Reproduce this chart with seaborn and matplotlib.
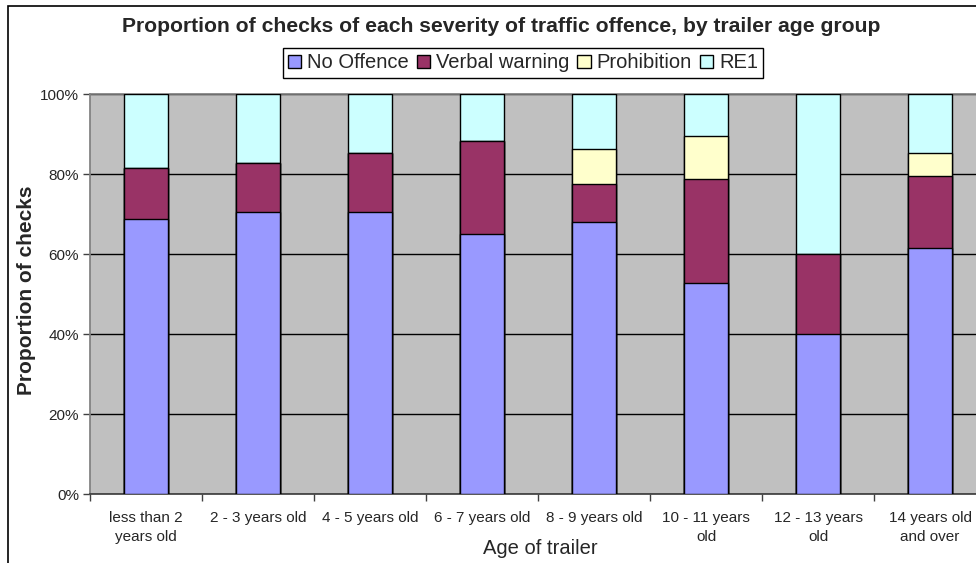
#!/usr/bin/env python3

import matplotlib
matplotlib.use("Agg")
import pandas as pd
from matplotlib import pyplot as plt
from matplotlib.patches import Patch, Rectangle
import seaborn as sns

sns.set_theme(style="white")
plt.rcParams['font.family'] = ['Liberation Sans', 'DejaVu Sans']

age_groups = ["less than 2\nyears old", "2 - 3 years old", "4 - 5 years old", "6 - 7 years old",
              "8 - 9 years old", "10 - 11 years\nold", "12 - 13 years\nold", "14 years old\nand over"]
severities = ["No Offence", "Verbal warning", "Prohibition", "RE1"]
no_offence = [68.8, 70.5, 70.5, 64.9, 68.0, 52.7, 40.0, 61.6]
verbal_warning = [12.6, 12.3, 14.8, 23.3, 9.4, 26.1, 20.0, 17.9]
prohibition = [0.0, 0.0, 0.0, 0.0, 8.9, 10.8, 0.0, 5.8]
re1 = [18.6, 17.2, 14.7, 11.8, 13.7, 10.4, 40.0, 14.7]
colours = ["#9999FF", "#993366", "#FFFFCC", "#CCFFFF"]


def create_plot(df: pd.DataFrame, to_file: str):
    fig = plt.figure(figsize=(9.76, 5.63), dpi=100)
    ax = fig.add_axes([90 / 976, 69 / 563, 896 / 976, 400 / 563])
    ax.set_facecolor("#C0C0C0")

    # cumulative heights, drawn from the top segment down so each covers the one above
    cum = df[severities].cumsum(axis=1)
    for sev, col in reversed(list(zip(severities, colours))):
        sns.barplot(x=df["age"], y=cum[sev], ax=ax, color=col, width=0.4,
                    edgecolor="black", linewidth=1, saturation=1, zorder=3)

    ax.set_ylim(0, 100)
    ax.set_xlim(-0.5, 7.5)
    ax.set_yticks([0, 20, 40, 60, 80, 100])
    ax.set_yticklabels([f"{v}%" for v in range(0, 101, 20)], fontsize=11)
    ax.yaxis.grid(True, color="black", linewidth=1, zorder=0)
    ax.set_axisbelow(True)
    ax.tick_params(axis="y", length=5, width=1, color="#404040", left=True, pad=3)

    ax.set_xticks(range(len(age_groups)))
    ax.set_xticklabels(age_groups, fontsize=11, linespacing=1.45)
    ax.set_xticks([i + 0.5 for i in range(-1, len(age_groups))], minor=True)
    ax.tick_params(axis="x", which="major", length=0, pad=12)
    ax.tick_params(axis="x", which="minor", length=5, width=1, color="#404040", bottom=True)
    ax.set_xlabel("")
    ax.set_ylabel("")

    for side in ["left", "top"]:
        ax.spines[side].set_color("#808080")
    ax.spines["bottom"].set_color("#404040")
    ax.spines["right"].set_visible(False)

    fig.text(501 / 976, 1 - 27 / 563, "Proportion of checks of each severity of traffic offence, by trailer age group",
             ha="center", va="center", fontsize=15.2, fontweight="bold")
    fig.text(27 / 976, 1 - 290 / 563, "Proportion of checks", rotation=90,
             ha="center", va="center", fontsize=15, fontweight="bold")
    fig.text(540 / 976, 1 - 548 / 563, "Age of trailer", ha="center", va="center", fontsize=14.5)

    handles = [Patch(facecolor=c, edgecolor="black", linewidth=1) for c in colours]
    fig.legend(handles, severities, loc="center", bbox_to_anchor=(523 / 976, 1 - 63 / 563), ncol=4,
               fontsize=14.5, frameon=True, fancybox=False, edgecolor="black", framealpha=1,
               handlelength=0.65, handleheight=0.65, handletextpad=0.3, columnspacing=0.4,
               borderpad=0.25, borderaxespad=0)

    fig.add_artist(Rectangle((8 / 976, -0.1), 2, 1 - 6 / 563 + 0.1, transform=fig.transFigure,
                             fill=False, edgecolor="black", linewidth=1.2))

    fig.savefig(to_file, dpi=100)


if __name__ == '__main__':
    data = pd.DataFrame({"age": age_groups, "No Offence": no_offence, "Verbal warning": verbal_warning,
                         "Prohibition": prohibition, "RE1": re1})
    create_plot(data, "out.png")
